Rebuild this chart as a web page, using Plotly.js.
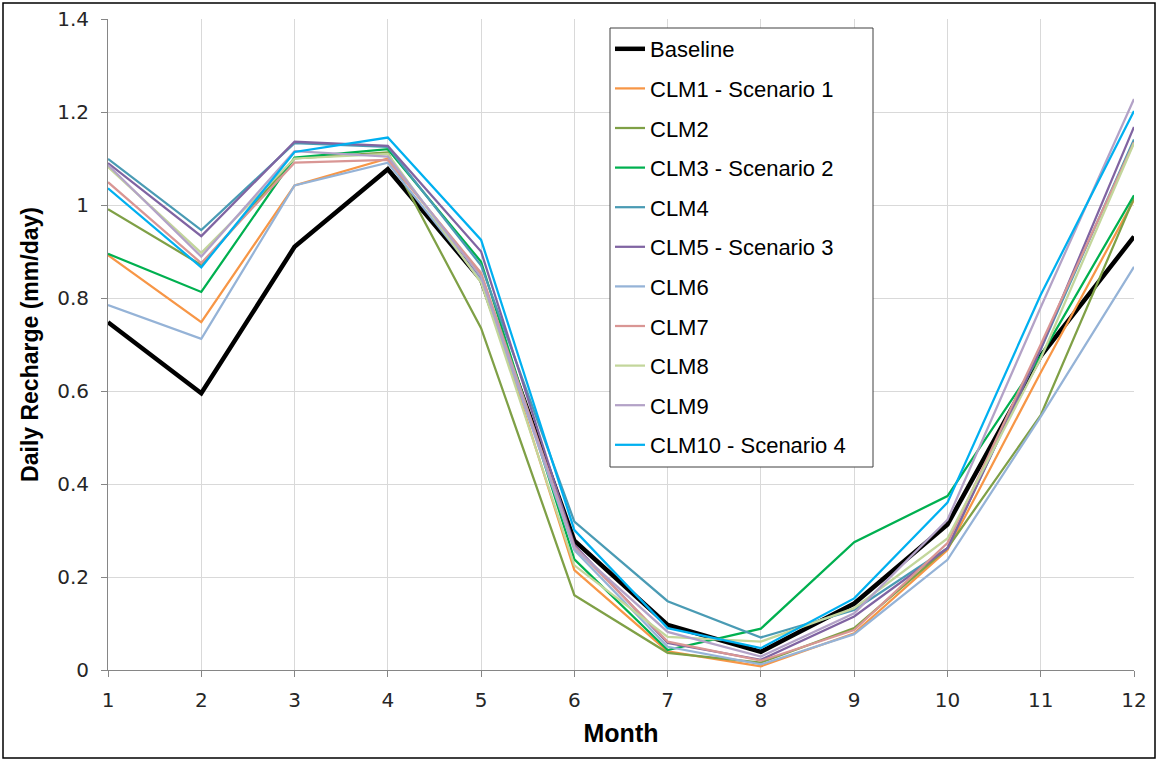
<!DOCTYPE html>
<html>
<head>
<meta charset="utf-8">
<script src="https://cdn.plot.ly/plotly-3.0.1.min.js"></script>
<style>html,body{margin:0;padding:0;background:#fff;}#chart{width:1158px;height:761px;}</style>
</head>
<body>
<div id="chart"></div>
<script>
const months = [1,2,3,4,5,6,7,8,9,10,11,12];
const seriesNames = ["Baseline","CLM1 - Scenario 1","CLM2","CLM3 - Scenario 2","CLM4","CLM5 - Scenario 3","CLM6","CLM7","CLM8","CLM9","CLM10 - Scenario 4"];
const baseline = [0.748,0.595,0.910,1.077,0.839,0.278,0.097,0.039,0.143,0.313,0.675,0.932];
const clm1  = [0.892,0.748,1.042,1.100,0.849,0.215,0.040,0.008,0.079,0.258,0.640,1.011];
const clm2  = [0.991,0.871,1.100,1.113,0.735,0.161,0.037,0.016,0.090,0.262,0.548,1.015];
const clm3  = [0.895,0.813,1.102,1.120,0.878,0.238,0.043,0.089,0.275,0.374,0.675,1.021];
const clm4  = [1.099,0.946,1.133,1.125,0.870,0.319,0.148,0.070,0.129,0.262,0.690,1.141];
const clm5  = [1.090,0.933,1.136,1.127,0.900,0.269,0.058,0.022,0.115,0.262,0.690,1.168];
const clm6  = [0.785,0.712,1.042,1.091,0.838,0.258,0.050,0.012,0.077,0.237,0.545,0.867];
const clm7  = [1.049,0.875,1.091,1.097,0.854,0.265,0.061,0.020,0.086,0.273,0.700,1.135];
const clm8  = [1.082,0.897,1.100,1.110,0.833,0.225,0.071,0.061,0.133,0.283,0.670,1.133];
const clm9  = [1.086,0.889,1.116,1.104,0.845,0.262,0.082,0.029,0.122,0.323,0.780,1.228];
const clm10 = [1.036,0.866,1.114,1.145,0.925,0.301,0.090,0.047,0.154,0.360,0.807,1.202];
const yTicks = [0,0.2,0.4,0.6,0.8,1,1.2,1.4];
const yTickText = ["0","0.2","0.4","0.6","0.8","1","1.2","1.4"];

const allSeries = [baseline,clm1,clm2,clm3,clm4,clm5,clm6,clm7,clm8,clm9,clm10];
const colors = ["#000000","#F79646","#7FA046","#00B050","#4A9BB4","#8064A2","#95B3D7","#D99694","#C3D69B","#B3A2C7","#00B0F0"];
const widths = [4.5,2.25,2.25,2.25,2.25,2.25,2.25,2.25,2.25,2.25,2.25];

const traces = allSeries.map((ys,i)=>({
  x: months, y: ys, type:'scatter', mode:'lines', name: seriesNames[i],
  legendgroup: 'g'+i,
  line:{color:colors[i], width:widths[i]}
}));

const L=108, R=1134, T=19, B=670;
const pw=R-L, ph=B-T;
const px = v => (v-L)/pw;
const py = v => (B-v)/ph;
const tickFont = {family:'DejaVu Sans, sans-serif', size:20, color:'#262626'};
const layout = {
  width:1158, height:761,
  margin:{l:L, r:1158-R, t:T, b:761-B},
  paper_bgcolor:'#ffffff', plot_bgcolor:'#ffffff',
  showlegend:true,
  legend:{
    x:px(610), y:py(28), xanchor:'left', yanchor:'top',
    bgcolor:'rgba(0,0,0,0)', borderwidth:0,
    font:{family:'Liberation Sans, Arial, sans-serif', size:22, color:'#000'},
    traceorder:'grouped', tracegroupgap:8, itemwidth:30
  },
  xaxis:{
    range:[1,12], tickvals:months, ticktext:months.map(String),
    showgrid:true, gridcolor:'#D9D9D9', gridwidth:1,
    showline:true, linecolor:'#868686', linewidth:1,
    ticks:'outside', ticklen:6, tickcolor:'#868686',
    ticklabelstandoff:6,
    zeroline:false,
    tickfont:tickFont,
    title:{text:'<b>Month</b>', font:{family:'Liberation Sans, Arial, sans-serif', size:25, color:'#000'}, standoff:13}
  },
  yaxis:{
    range:[0,1.4], tickvals:yTicks, ticktext:yTickText,
    showgrid:true, gridcolor:'#D9D9D9', gridwidth:1,
    showline:true, linecolor:'#868686', linewidth:1,
    ticks:'outside', ticklen:6, tickcolor:'#868686',
    ticklabelstandoff:8,
    zeroline:false,
    tickfont:tickFont,
    title:{text:'<b>Daily Recharge (mm/day)</b>', font:{family:'Liberation Sans, Arial, sans-serif', size:23, color:'#000'}, standoff:12}
  },
  shapes:[
    {type:'rect', xref:'paper', yref:'paper', layer:'above',
     x0:px(610), x1:px(873), y0:py(467), y1:py(28),
     line:{color:'#404040', width:1}, fillcolor:'#ffffff'},
    {type:'rect', xref:'paper', yref:'paper', layer:'above',
     x0:px(3), x1:px(1155), y0:py(758), y1:py(3),
     line:{color:'#000', width:1.5}, fillcolor:'rgba(0,0,0,0)'}
  ]
};
Plotly.newPlot('chart', traces, layout, {displayModeBar:false, staticPlot:true});
</script>
</body>
</html>
